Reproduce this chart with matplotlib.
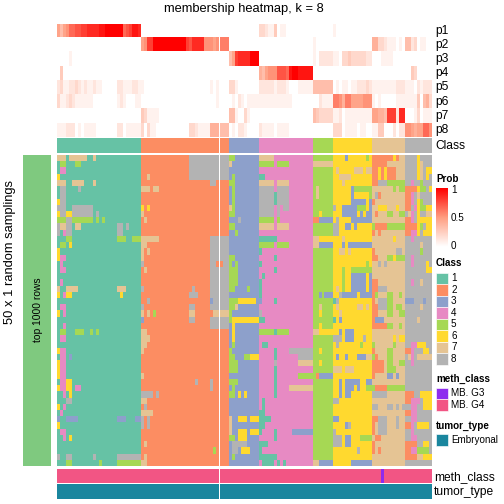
#!/usr/bin/env python3
# -*- coding: utf-8 -*-
import numpy as np
import matplotlib
matplotlib.use("Agg")
import matplotlib.pyplot as plt
from matplotlib.colors import LinearSegmentedColormap, ListedColormap
from matplotlib.patches import Rectangle

plt.rcParams['font.family'] = ['Liberation Sans', 'DejaVu Sans']

# %%
# class membership per sample (one hex digit = prob * 15), split by class block
sizes = [28, 29, 10, 18, 7, 13, 11, 9]

p1 = ["7578aabbccddddeeffffffabceedcc"[:28], "", "", "332114011", "", "1", "", ""]
p2 = ["", "78ccfffffffffffcbdddd88878999", "", "", "1", "", "66332111010", "552301100"]
p3 = ["00001", "", "57cddddfff", "", "1022222", "1103343333322", "00011110000", ""]
p4 = ["04", "", "", "657888bbbaeffeeeee", "", "", "", "004300000"]
p5 = ["2311223212112110000022111221", "10000000000000000000000101", "3310000000",
      "222221222100011111", "5555555", "0101101122232", "11111111222", "111021222"]
p6 = ["3112321111110000000012100011", "00000000000000000000000001", "0102101111",
      "111111111110000000", "0021111", "9986997777888", "10100000111", "111140563"]
p7 = ["", "43111100", "5510031000", "", "5433333", "1120111111111", "77665ccc2dd", "000130111"]
p8 = ["1112220101111000000022011111", "30311000000000003321111666555", "0102210000",
      "211110111100000000", "", "3330111101100", "11440002022", "887677aa8"]
prob_rows = [p1, p2, p3, p4, p5, p6, p7, p8]
prob_labels = ["p1", "p2", "p3", "p4", "p5", "p6", "p7", "p8"]

# '.' means the base class of that block, short rows are padded with the base
class1 = [
    "777.777777..7", ".55...55", ".44", "6", "777..7777...7", ".88....8", ".88", "688",
    "888..8888888", "688668888888.8", "555885555555.5.5", "87788.77............88.8",
    "8.488...............88", "...55...............555..555", ".55.6", "6", "644", ".4", ".44", "",
    ".4", "7..7777.............777", "6.466................6", "", ".44", "6.4", "", "..4",
    ".55...555..5.5", ".44", "", "644", ".44.3", "644", "644", "644", ".4466", "64466.44", "..4.6",
    "...88", "6.4", ".4", "3..3333.............333...33", "6", ".44", "..4.6", "", "",
    "8..88.......8.......88888888", "...55.........5.....55555555",
]
class2 = [
    "................8888888888888", "................8888888888888", "................8888888888888",
    "..7.............8888888888888", ".......................88", "777.77", "", "", "6.6", "7", ".7", "", "",
    "777777.................888888", "77.....................888888", "7.7....................888888",
    "7......................888888", "8......................88..88", ".7.....................888888",
    ".......................888888", ".......................888888", "8................8.....888888",
    "................888....888888", "..8....................388888", "8...............88.....888888",
    "7.7.5...........77......77777", "3...............88.....888888", ".......................888888",
    "77", "777", "77", "7", "", "", "", "7", "..................8....8", ".......................8", "8888.8",
    "77", ".8", "7777", "8.8", "8.8", "", "", ".7", "........................5", ".7", "77",
]
class3 = [
    "55", "7", "", ".5", "55", ".5", ".5", ".5", "75", "55", "...8", "55", "..5", "", "", "", "55", "5.5",
    "555", "555", "555", "55....5", "", "555666666", "557", "5", "5666666666", ".6", ".6", ".6", ".5", "5",
    "55...55666", "555", "555", "", "555", ".5", "55.6.6", "", "", "", "7..666.666", "7", "7..666.666",
    "55.666", ".88888", ".88.666", ".5", "",
]
class4 = [
    "77777", "55555.5555", "", "11", "77777.7777", "88888.8888", "8888818888",
    "8888818888", "88888.8.88", "88888.8", "55555.5", "77777.7777", "", "111111", "55555.5555", "1", ".....1",
    "1", ".....1", ".1", "1", "1", "1", "3....1", "", "8", "11", "", "5555515555",
    "", ".11", ".....1....88888888", ".....1.......88888", ".....8.......77777", ".....1",
    ".....1.......55555", ".....1", ".....1....77777777", ".....1", ".1", ".1", "11", "1111", "11",
    "1....1.....3333333", ".....1", "111", "1", "111111", ".1111.1.1",
]
class5 = [
    "", "7777777", "", "", "", ".7", ".7", "", "", "..6", "2233333", "", "", "7766666", "7733333", "", "", "",
    "", "", "", "", "..3.333", "", "..7", "..6", "", "..6", "7766666", "", "", "..6", "", "..6", "",
    ".233333", "", "", "", "", "", "", "", "", "", "", "", "", "", "7733333",
]
class6 = [
    "....3......5", "", ".7.....777.77", "..7777", "...7", "......3555555",
    "......3.....5", "......33333.3", "8..33333555.3", "...33333.3.33", ".8....3333333", "88..33.3", "88", "...7",
    "...3.33333333", "..77.7", "", "...........5", "...5..5555555", "...5..33333.3", "...5..33333.3",
    ".7.5..33333.3", "..83333363333", "18", ".7......77.7", "..7", "1.3", "", "..3.333",
    "888.333...8", ".8.......5", "", ".3..3...33377", "", "777.777", "", "..3.33333..33", "..3.333.3..55",
    "..3.33", "88", "", "", "33", "....38", "8", "888.33...5555", "888.33", "........8", "", "......3333333",
]
class7 = [
    "222222262..", "22222", "22626222", "22626222", "22888555555", ".......5.55", ".82",
    "2", "..666...6", ".2...55..55", "", "52222555555", "2.2", ".......6", "", "2.......88", "22...556555",
    "..8.8", "", "", "22", "22888", "25...55..5", "2.88855", "2288855.55",
    "22...55..55", "2333", "2222255..5", "", ".......6.66", "5......5", "2....55",
    "52...55", "2222.55..55", "2222.555", "2....33.3", "", "52222555555", "88888",
    "", "88...88.8.8", "", "22888...8", "2.888...8", "2.888", ".22", "2", "2.2", "", "",
]
class8 = [
    "....6", "....67", "....67.66", "....67.6", "..4..5", "2222655.6", "224.78", "224.65", "22.465566",
    ".74.6..77", "224.66666", "222265.66", "22446.666", "..4", ".....7", ".....5", "..4", "..4....6", ".......66",
    "", "..4..7", "", "", "333...3", ".....7", "", "....7", "", "", "", "..44666", "224...66", ".74.77777", "..4", "",
    "", "", "", "222..6666", "22444.666", "..44..666", "2244", "..44", "224.6666", "..4", "..44", "2222..66",
    "22445555", "222277666", "",
]
class_blocks = [class1, class2, class3, class4, class5, class6, class7, class8]
class_labels = ["1", "2", "3", "4", "5", "6", "7", "8"]
class_colors = ["#66C2A5", "#FC8D62", "#8DA0CB", "#E78AC3", "#A6D854", "#FFD92F", "#E5C494", "#B3B3B3"]

meth_g3_columns = [108]
meth_labels = ["MB. G3", "MB. G4"]
meth_colors = ["#8E2BEE", "#F25584"]
tumor_labels = ["Embryonal"]
tumor_colors = ["#1A869E"]

prob_cmap = LinearSegmentedColormap.from_list("prob", ["#FFFFFF", "#FF9E81", "#FF0000"])
class_cmap = ListedColormap(class_colors)
W = 504.0

# %%


def build_prob():
    rows = []
    for row in prob_rows:
        out = []
        for seg, n in zip(row, sizes):
            out += [int(c, 16) / 15 for c in seg.ljust(n, "0")[:n]]
        rows.append(out)
    return np.array(rows)


def build_classes():
    out = []
    for j in range(50):
        row = []
        for k, block in enumerate(class_blocks):
            base = str(k + 1)
            seg = block[j].replace(".", base).ljust(sizes[k], base)[:sizes[k]]
            row += [int(c) for c in seg]
        out.append(row)
    return np.array(out)


def px_axes(x0, y0, x1, y1):
    ax = fig.add_axes([x0 / W, 1 - y1 / W, (x1 - x0) / W, (y1 - y0) / W])
    ax.axis("off")
    return ax


def draw_split(data, y0, y1, **kw):
    # the white line at column 54 splits every heatmap in two
    for x0, x1, part in [(57, 219, data[:, :54]), (220, 431, data[:, 54:])]:
        ax = px_axes(x0, y0, x1, y1)
        ax.imshow(part, aspect="auto", interpolation="nearest", **kw)


fig = plt.figure(figsize=(7, 7), dpi=72)

probs = build_prob()
classes = build_classes()
ncol = probs.shape[1]

draw_split(probs, 24, 137.5, cmap=prob_cmap, vmin=0, vmax=1)
class_row = np.repeat(np.arange(1, 9), sizes)[None, :]
draw_split(class_row, 138, 153, cmap=class_cmap, vmin=0.5, vmax=8.5)
draw_split(classes, 155, 466, cmap=class_cmap, vmin=0.5, vmax=8.5)

meth = np.ones((1, ncol))
meth[0, meth_g3_columns] = 0
draw_split(meth, 469, 483, cmap=ListedColormap(meth_colors), vmin=0, vmax=1)
draw_split(np.zeros((1, ncol)), 484, 499, cmap=ListedColormap(tumor_colors), vmin=0, vmax=1)

# overlay in pixel coordinates for the labels and legends
ov = fig.add_axes([0, 0, 1, 1], facecolor="none")
ov.set_xlim(0, 504)
ov.set_ylim(504, 0)
ov.axis("off")

ov.add_patch(Rectangle((23, 155), 28, 311, color="#7FC97F", lw=0))
ov.text(38, 310, "top 1000 rows", rotation=90, ha="center", va="center", fontsize=10.2)
ov.text(10, 252, "50 x 1 random samplings", rotation=90, ha="center", va="center", fontsize=12.9)
ov.text(244, 9, "membership heatmap, k = 8", ha="center", va="center", fontsize=12.9)

for i, lab in enumerate(prob_labels):
    ov.text(435, 31 + i * 14.1, lab, va="center", fontsize=12)
ov.text(435, 146, "Class", va="center", fontsize=12)
ov.text(434, 477, "meth_class", va="center", fontsize=12)
ov.text(434, 492, "tumor_type", va="center", fontsize=12)

# Prob legend
ov.text(436, 179, "Prob", va="center", fontsize=9.9, fontweight="bold")
cb = px_axes(436, 188, 448, 247)
cb.imshow(np.linspace(1, 0, 100)[:, None], aspect="auto", cmap=prob_cmap, vmin=0, vmax=1)
for y, lab in [(190, "1"), (218, "0.5"), (246, "0")]:
    ov.plot([436, 438], [y, y], color="white", lw=0.6)
    ov.plot([446, 448], [y, y], color="white", lw=0.6)
    ov.text(451, y, lab, va="center", fontsize=9.9)


def legend_block(title, title_y, labels, colors, box_y):
    ov.text(436, title_y, title, va="center", fontsize=9.9, fontweight="bold")
    for i, (lab, col) in enumerate(zip(labels, colors)):
        y = box_y + i * 11.5
        ov.add_patch(Rectangle((436, y), 12, 11.5, facecolor=col, edgecolor="white", lw=0.6))
        ov.text(451, y + 5.8, lab, va="center", fontsize=9.9)


legend_block("Class", 263, class_labels, class_colors, 272.5)
legend_block("meth_class", 379, meth_labels, meth_colors, 387.5)
legend_block("tumor_type", 426, tumor_labels, tumor_colors, 434)

fig.savefig("out.png", dpi=72)
